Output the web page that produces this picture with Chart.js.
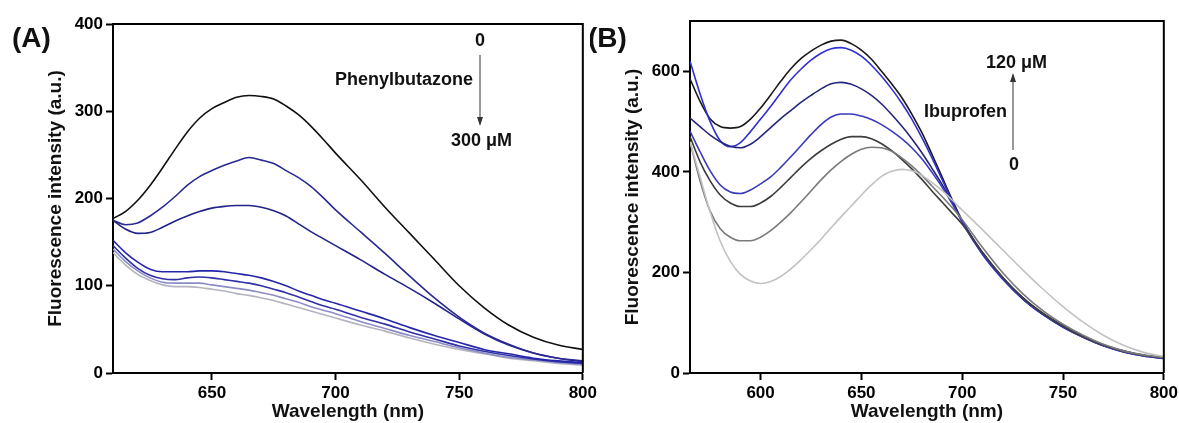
<!DOCTYPE html>
<html>
<head>
<meta charset="utf-8">
<script src="https://cdn.jsdelivr.net/npm/chart.js@4.4.0/dist/chart.umd.min.js"></script>
<style>
  html, body { margin: 0; padding: 0; background: #fff; overflow: hidden; }
  #wrap { position: relative; width: 1179px; height: 423px; overflow: hidden; }
  .panel { position: absolute; top: 0; height: 423px; }
</style>
</head>
<body>
<div id="wrap">
  <div class="panel" style="left:0;width:600px"><canvas id="chartA"></canvas></div>
  <div class="panel" style="left:590px;width:591px"><canvas id="chartB"></canvas></div>
</div>
<script>
// ---- Panel A: phenylbutazone 0 -> 300 uM ----
const wlA = [610, 615, 620, 625, 630, 635, 640, 645, 650, 655, 660, 665, 670, 675, 680, 685, 690, 695, 700,
             710, 720, 730, 740, 750, 760, 770, 780, 790, 800];
const pbz0 = [177, 185, 198, 215, 235, 256, 276, 292, 303, 310, 316, 318, 317, 314, 306, 296, 283, 268, 252,
              222, 190, 160, 130, 100, 75, 55, 41, 32, 27];
const pbz1 = [175, 170, 172, 180, 190, 202, 215, 225, 232, 238, 243, 247, 244, 240, 232, 224, 214, 201, 187,
              162, 137, 111, 86, 64, 46, 33, 23, 17, 14];
const pbz2 = [175, 165, 160, 161, 167, 174, 180, 185, 189, 191, 192, 192, 190, 186, 180, 171, 162, 154, 146,
              130, 113, 97, 80, 62, 45, 32, 23, 17, 13];
const pbz3 = [152, 138, 127, 119, 116, 116, 116, 117, 117, 116, 114, 112, 109, 105, 100, 94, 89, 84, 80,
              71, 62, 52, 43, 35, 27, 22, 17, 14, 12];
const pbz4 = [146, 132, 120, 112, 108, 107, 109, 110, 109, 107, 105, 103, 100, 96, 92, 87, 82, 77, 73,
              64, 56, 47, 39, 31, 25, 20, 16, 13, 11];
const pbz5 = [142, 128, 117, 109, 104, 103, 103, 103, 101, 99, 97, 95, 92, 89, 85, 81, 76, 72, 68,
              59, 51, 43, 36, 29, 23, 18, 15, 12, 10];
const pbz6 = [138, 124, 113, 106, 101, 99, 99, 98, 96, 94, 91, 89, 86, 83, 79, 75, 71, 67, 63,
              55, 48, 40, 33, 27, 22, 17, 14, 11, 9];
const colorsA = ['#111111', '#2a2a94', '#22228a', '#2626aa', '#3030a8', '#8c8cc8', '#b4b4c0'];
const xTicksA = [650, 700, 750, 800];
const yTicksA = [0, 100, 200, 300, 400];

// ---- Panel B: ibuprofen 0 -> 120 uM ----
const wlB = [565, 570, 575, 580, 585, 590, 595, 600, 605, 610, 615, 620, 625, 630, 635, 640, 645, 650,
             655, 660, 665, 670, 675, 680, 685, 690, 695, 700,
             710, 720, 730, 740, 750, 760, 770, 780, 790, 800];
const ibu0 = [460, 390, 320, 262, 222, 196, 183, 178, 182, 192, 207, 225, 245, 266, 289, 311, 332, 354,
              374, 391, 401, 405, 402, 393, 379, 363, 344, 324,
              285, 245, 205, 167, 132, 101, 75, 55, 41, 33];
const ibu1 = [460, 382, 322, 287, 270, 263, 263, 270, 283, 300, 319, 340, 362, 384, 404, 421, 435, 445,
              449, 448, 441, 428, 412, 393, 372, 351, 329, 305,
              250, 200, 158, 124, 97, 75, 57, 44, 36, 31];
const ibu2 = [470, 420, 382, 354, 338, 331, 331, 338, 351, 369, 389, 409, 427, 442, 455, 465, 470, 470,
              466, 456, 442, 425, 406, 385, 362, 340, 318, 296,
              240, 191, 150, 118, 93, 72, 55, 43, 35, 30];
const ibu3 = [481, 440, 402, 374, 360, 357, 364, 376, 390, 409, 430, 452, 474, 494, 509, 515, 515, 511,
              504, 494, 481, 466, 448, 426, 399, 370, 337, 301,
              237, 188, 148, 117, 92, 71, 54, 42, 34, 29];
const ibu4 = [507, 490, 473, 460, 451, 448, 455, 470, 488, 506, 522, 538, 552, 565, 575, 578, 574, 565,
              552, 535, 514, 491, 466, 438, 407, 375, 340, 302,
              238, 189, 148, 117, 92, 72, 55, 43, 35, 30];
const ibu5 = [620, 555, 500, 462, 450, 458, 480, 505, 530, 557, 583, 604, 622, 636, 645, 647, 642, 630,
              612, 590, 565, 537, 505, 468, 428, 385, 342, 300,
              236, 187, 147, 116, 91, 71, 54, 42, 34, 29];
const ibu6 = [585, 540, 505, 490, 487, 490, 505, 527, 553, 580, 605, 625, 640, 652, 660, 662, 655, 642,
              624, 600, 575, 548, 515, 478, 435, 390, 345, 303,
              240, 190, 150, 119, 94, 73, 56, 44, 35, 30];
const colorsB = ['#c2c2c2', '#7a7a7a', '#3c3c3c', '#3a3abc', '#26267e', '#2f2fd2', '#1a1a1a'];
const xTicksB = [600, 650, 700, 750, 800];
const yTicksB = [0, 200, 400, 600];

const FONT = 'Arial, "Liberation Sans", sans-serif';

// box on top/right, panel letter and the arrow note
const panelDeco = {
    id: 'panelDeco',
    afterDraw(chart, args, opts) {
        const ctx = chart.ctx;
        const a = chart.chartArea;
        ctx.save();
        ctx.strokeStyle = '#000';
        ctx.lineWidth = 2;
        ctx.beginPath();
        ctx.moveTo(a.left, a.top);
        ctx.lineTo(a.right, a.top);
        ctx.lineTo(a.right, a.bottom);
        ctx.stroke();

        ctx.fillStyle = '#111';
        ctx.textBaseline = 'middle';
        ctx.font = 'bold 28px ' + FONT;
        ctx.textAlign = 'left';
        ctx.fillText(opts.tag, opts.tagX, 39);

        ctx.font = 'bold 18px ' + FONT;
        opts.notes.forEach(n => {
            ctx.textAlign = n.align;
            ctx.fillText(n.text, n.x, n.y);
        });

        // arrow
        const ar = opts.arrow;
        ctx.strokeStyle = '#333';
        ctx.fillStyle = '#333';
        ctx.lineWidth = 1;
        ctx.beginPath();
        ctx.moveTo(ar.x, ar.from);
        ctx.lineTo(ar.x, ar.to);
        ctx.stroke();
        const dir = ar.to > ar.from ? 1 : -1;
        ctx.beginPath();
        ctx.moveTo(ar.x, ar.to + dir * 2);
        ctx.lineTo(ar.x - 3, ar.to - dir * 7);
        ctx.lineTo(ar.x + 3, ar.to - dir * 7);
        ctx.closePath();
        ctx.fill();
        ctx.restore();
    }
};

function axis(min, max, tickList, title, fit) {
    return {
        type: 'linear',
        min: min,
        max: max,
        afterBuildTicks: s => { s.ticks = tickList.map(v => ({ value: v })); },
        afterFit: fit,
        ticks: {
            color: '#000',
            font: { family: FONT, size: 17, weight: 'bold' },
            padding: 3,
            autoSkip: false,
            maxRotation: 0
        },
        grid: {
            display: true,
            drawOnChartArea: false,
            drawTicks: true,
            tickLength: 7,
            tickWidth: 2,
            tickColor: '#000'
        },
        border: { display: true, color: '#000', width: 2 },
        title: {
            display: true,
            text: title,
            color: '#111',
            font: { family: FONT, size: 19, weight: 'bold' },
            padding: { top: 2, bottom: 0 }
        }
    };
}

function makeChart(id, wl, series, colors, opt) {
    const ctx = document.getElementById(id).getContext('2d');
    return new Chart(ctx, {
        type: 'line',
        data: {
            datasets: series.map((s, i) => ({
                data: wl.map((x, j) => ({ x: x, y: s[j] })),
                borderColor: colors[i],
                borderWidth: 1.6,
                pointRadius: 0,
                fill: false,
                cubicInterpolationMode: 'monotone'
            }))
        },
        options: {
            responsive: true,
            maintainAspectRatio: false,
            animation: false,
            layout: { padding: opt.padding },
            plugins: {
                legend: { display: false },
                tooltip: { enabled: false },
                panelDeco: opt.deco
            },
            scales: {
                x: axis(opt.xMin, 800, opt.xTicks, 'Wavelength (nm)', s => { s.height = 50; }),
                y: axis(0, opt.yMax, opt.yTicks, 'Fluorescence intensity (a.u.)', s => { s.width = 71; })
            }
        },
        plugins: [panelDeco]
    });
}

makeChart('chartA', wlA, [pbz0, pbz1, pbz2, pbz3, pbz4, pbz5, pbz6], colorsA, {
    padding: { left: 42, top: 24, right: 0, bottom: 0 },
    xMin: 610, yMax: 400, xTicks: xTicksA, yTicks: yTicksA,
    deco: {
        tag: '(A)', tagX: 12,
        notes: [
            { text: '0', x: 480, y: 41, align: 'center' },
            { text: 'Phenylbutazone', x: 473, y: 80, align: 'right' },
            { text: '300 \u03bcM', x: 451, y: 141, align: 'left' }
        ],
        arrow: { x: 480, from: 55, to: 124 }
    }
});

makeChart('chartB', wlB, [ibu0, ibu1, ibu2, ibu3, ibu4, ibu5, ibu6], colorsB, {
    padding: { left: 29, top: 21, right: 0, bottom: 0 },
    xMin: 565, yMax: 700, xTicks: xTicksB, yTicks: yTicksB,
    deco: {
        tag: '(B)', tagX: -2,
        notes: [
            { text: '120 \u03bcM', x: 396, y: 63, align: 'left' },
            { text: 'Ibuprofen', x: 417, y: 112, align: 'right' },
            { text: '0', x: 424, y: 165, align: 'center' }
        ],
        arrow: { x: 423, from: 150, to: 75 }
    }
});
</script>
</body>
</html>
